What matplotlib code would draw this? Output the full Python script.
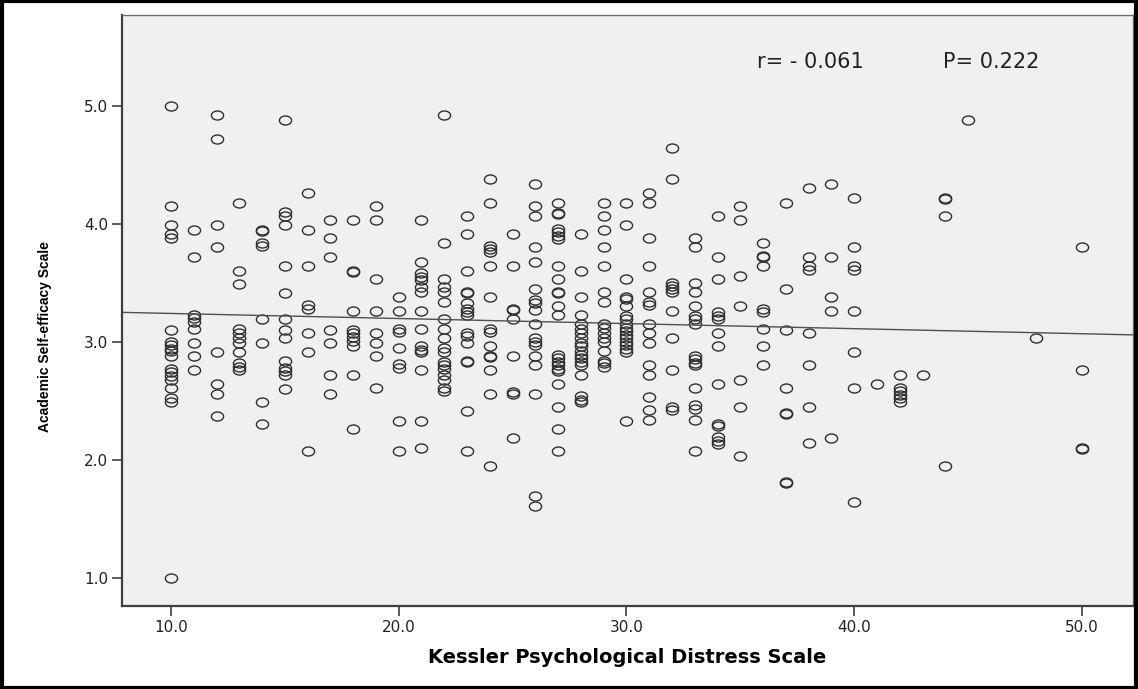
import matplotlib
matplotlib.use("Agg")
import matplotlib.pyplot as plt
from matplotlib.markers import MarkerStyle
from matplotlib.transforms import Affine2D
from matplotlib.patches import Rectangle
import numpy as np

# scores, one line per Kessler value
kessler = (
    [10] * 19 + [11] * 9 + [12] * 8 + [13] * 11 + [14] * 8 + [15] * 14
    + [16] * 8 + [17] * 7 + [18] * 11 + [19] * 8 + [20] * 9 + [21] * 15
    + [22] * 18 + [23] * 16 + [24] * 15 + [25] * 9 + [26] * 18 + [27] * 23
    + [28] * 19 + [29] * 16 + [30] * 18 + [31] * 15 + [32] * 11 + [33] * 17
    + [34] * 14 + [35] * 7 + [36] * 9 + [37] * 8 + [38] * 8 + [39] * 5
    + [40] * 8 + [41] * 1 + [42] * 6 + [43] * 1 + [44] * 4 + [45] * 1
    + [48] * 1 + [50] * 4
)
efficacy = [
    5.00, 4.15, 3.99, 3.91, 3.88, 3.10, 3.00, 2.97, 2.94, 2.92, 2.88, 2.77, 2.74, 2.71, 2.68, 2.61, 2.52, 2.49, 1.00,
    3.95, 3.72, 3.23, 3.20, 3.17, 3.11, 2.99, 2.88, 2.76,
    4.92, 4.72, 3.99, 3.80, 2.91, 2.64, 2.56, 2.37,
    4.18, 3.60, 3.49, 3.11, 3.07, 3.03, 2.99, 2.91, 2.82, 2.79, 2.76,
    3.95, 3.94, 3.84, 3.81, 3.19, 2.99, 2.49, 2.30,
    4.88, 4.10, 4.07, 3.99, 3.64, 3.41, 3.19, 3.10, 3.03, 2.84, 2.78, 2.75, 2.72, 2.60,
    4.26, 3.95, 3.64, 3.31, 3.28, 3.07, 2.91, 2.07,
    4.03, 3.88, 3.72, 3.10, 2.99, 2.72, 2.56,
    4.03, 3.60, 3.59, 3.26, 3.10, 3.07, 3.04, 3.01, 2.96, 2.72, 2.26,
    4.15, 4.03, 3.53, 3.26, 3.07, 2.99, 2.88, 2.61,
    3.38, 3.26, 3.11, 3.08, 2.95, 2.81, 2.78, 2.33, 2.07,
    4.03, 3.68, 3.58, 3.55, 3.52, 3.46, 3.42, 3.26, 3.11, 2.96, 2.93, 2.91, 2.76, 2.33, 2.10,
    4.92, 3.84, 3.53, 3.46, 3.42, 3.34, 3.19, 3.11, 3.03, 2.95, 2.91, 2.83, 2.80, 2.77, 2.72, 2.68, 2.61, 2.58,
    4.07, 3.91, 3.60, 3.42, 3.41, 3.33, 3.28, 3.25, 3.23, 3.07, 3.05, 2.99, 2.84, 2.83, 2.41, 2.07,
    4.38, 4.18, 3.81, 3.79, 3.76, 3.64, 3.38, 3.11, 3.08, 2.96, 2.88, 2.87, 2.76, 2.56, 1.95,
    3.91, 3.64, 3.28, 3.27, 3.19, 2.88, 2.57, 2.56, 2.18,
    4.34, 4.15, 4.07, 3.80, 3.68, 3.45, 3.35, 3.33, 3.27, 3.15, 3.03, 3.00, 2.97, 2.88, 2.80, 2.56, 1.69, 1.61,
    4.18, 4.09, 4.08, 3.96, 3.93, 3.90, 3.87, 3.64, 3.53, 3.42, 3.41, 3.30, 3.23, 2.89, 2.86, 2.83, 2.80, 2.77, 2.75, 2.64, 2.45, 2.26, 2.07,
    3.91, 3.60, 3.38, 3.23, 3.15, 3.11, 3.07, 3.03, 2.99, 2.96, 2.92, 2.89, 2.86, 2.83, 2.80, 2.72, 2.54, 2.51, 2.49,
    4.18, 4.07, 3.95, 3.80, 3.64, 3.42, 3.34, 3.15, 3.12, 3.07, 3.03, 3.00, 2.92, 2.84, 2.82, 2.79,
    4.18, 3.99, 3.53, 3.38, 3.36, 3.30, 3.22, 3.19, 3.15, 3.12, 3.09, 3.06, 3.03, 3.00, 2.97, 2.94, 2.91, 2.33,
    4.26, 4.18, 3.88, 3.64, 3.42, 3.34, 3.31, 3.15, 3.07, 2.99, 2.80, 2.72, 2.53, 2.42, 2.34,
    4.64, 4.38, 3.50, 3.47, 3.45, 3.42, 3.26, 3.03, 2.76, 2.45, 2.42,
    3.88, 3.80, 3.50, 3.42, 3.30, 3.22, 3.19, 3.15, 2.88, 2.85, 2.82, 2.80, 2.61, 2.46, 2.43, 2.34, 2.07,
    4.07, 3.72, 3.53, 3.25, 3.22, 3.19, 3.07, 2.96, 2.64, 2.30, 2.29, 2.19, 2.16, 2.13,
    4.15, 4.03, 3.56, 3.30, 2.68, 2.45, 2.03,
    3.84, 3.73, 3.72, 3.64, 3.28, 3.25, 3.11, 2.96, 2.80,
    4.18, 3.45, 3.10, 2.61, 2.40, 2.39, 1.81, 1.80,
    4.30, 3.72, 3.64, 3.61, 3.07, 2.80, 2.45, 2.14,
    4.34, 3.72, 3.38, 3.26, 2.18,
    4.22, 3.80, 3.64, 3.61, 3.26, 2.91, 2.61, 1.64,
    2.64,
    2.72, 2.61, 2.58, 2.55, 2.52, 2.49,
    2.72,
    4.22, 4.21, 4.07, 1.95,
    4.88,
    3.03,
    3.80, 2.76, 2.10, 2.09,
]

# fit line as drawn on the chart
fit_intercept = 3.283
fit_slope = -0.0043

x_ticks = [10, 20, 30, 40, 50]
y_ticks = [1, 2, 3, 4, 5]
r_text = "r= - 0.061"
p_text = "P= 0.222"

fig = plt.figure(figsize=(11.38, 6.89), dpi=100)
ax = fig.add_axes([0.1072, 0.1205, 0.8884, 0.8577])
ax.set_facecolor("#F0F0F0")

circle = MarkerStyle("o", fillstyle="none", transform=Affine2D().scale(1.35, 1.0))
ax.plot(kessler, efficacy, linestyle="none", marker=circle, markersize=6.5,
        markeredgecolor="#303030", markerfacecolor="none", markeredgewidth=1.0)

ax.set_xlim(7.85, 52.24)
ax.set_ylim(0.76, 5.77)

xs = np.array(ax.get_xlim())
ax.plot(xs, fit_intercept + fit_slope * xs, color="#505050", linewidth=1.0)

ax.set_xticks(x_ticks)
ax.set_xticklabels([f"{t:.1f}" for t in x_ticks])
ax.set_yticks(y_ticks)
ax.set_yticklabels([f"{t:.1f}" for t in y_ticks])
ax.tick_params(axis="both", length=7, width=1.2, color="#404040",
               labelsize=11, labelcolor="#222222", pad=3)

for side in ["left", "bottom"]:
    ax.spines[side].set_linewidth(1.6)
    ax.spines[side].set_color("#404040")
for side in ["top", "right"]:
    ax.spines[side].set_linewidth(1.0)
    ax.spines[side].set_color("#707070")

ax.text(35.72, 5.37, r_text, ha="left", va="center", fontsize=15, color="#222222")
ax.text(43.89, 5.37, p_text, ha="left", va="center", fontsize=15, color="#222222")

fig.text(0.551, 0.045, "Kessler Psychological Distress Scale", ha="center", va="center",
         fontsize=14, fontweight="bold", color="black")
fig.text(0.0395, 0.511, "Academic Self-efficacy Scale", ha="center", va="center",
         rotation=90, fontsize=10, fontweight="bold", family="Liberation Sans", color="black")

# black frame around the whole picture
fig.add_artist(Rectangle((0.0015, 0.002), 0.997, 0.996, transform=fig.transFigure,
                         fill=False, linewidth=3, edgecolor="black"))

fig.savefig("out.png", dpi=100)
